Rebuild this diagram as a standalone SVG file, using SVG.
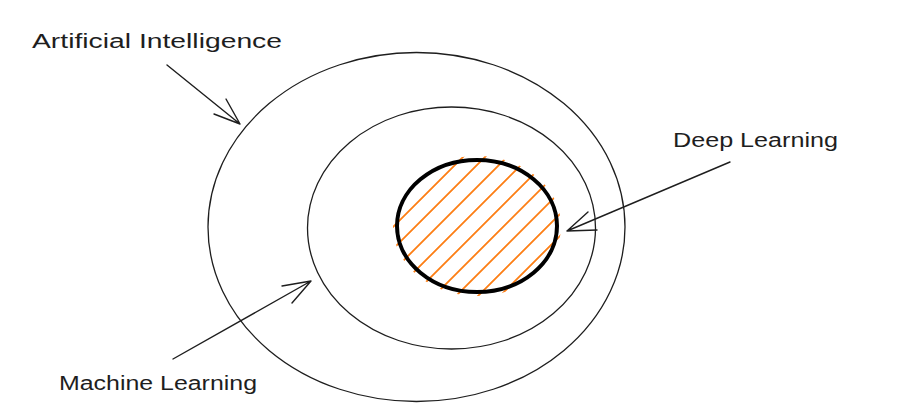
<svg xmlns="http://www.w3.org/2000/svg" width="904" height="406" viewBox="0 0 904 406">
<defs>
<style>
.ring{fill:none;stroke:#1e1e1e;stroke-width:1.3}
.arrow{fill:none;stroke:#1e1e1e;stroke-width:1.4;stroke-linecap:round;stroke-linejoin:round}
.hatch{stroke:#fd7e14;stroke-width:1.8;stroke-linecap:round}
.label{font-family:"Liberation Sans","DejaVu Sans",sans-serif;font-size:20px;fill:#1e1e1e}
</style>
<clipPath id="dlclip"><ellipse cx="477" cy="226" rx="84" ry="70"/></clipPath>
</defs>
<rect width="904" height="406" fill="#ffffff"/>
<g id="ai">
<ellipse class="ring" cx="416.5" cy="227" rx="208.5" ry="174.5"/>
<text class="label" x="32" y="48" textLength="250" lengthAdjust="spacingAndGlyphs">Artificial Intelligence</text>
</g>
<g id="ml">
<ellipse class="ring" cx="451.5" cy="228" rx="144" ry="121"/>
<text class="label" x="59" y="390" textLength="198" lengthAdjust="spacingAndGlyphs">Machine Learning</text>
</g>
<g id="dl">
<g clip-path="url(#dlclip)">
<line class="hatch" x1="294" y1="326" x2="494" y2="126"/>
<line class="hatch" x1="316" y1="326" x2="516" y2="126"/>
<line class="hatch" x1="338" y1="326" x2="538" y2="126"/>
<line class="hatch" x1="360" y1="326" x2="560" y2="126"/>
<line class="hatch" x1="382" y1="326" x2="582" y2="126"/>
<line class="hatch" x1="404" y1="326" x2="604" y2="126"/>
<line class="hatch" x1="426" y1="326" x2="626" y2="126"/>
<line class="hatch" x1="448" y1="326" x2="648" y2="126"/>
<line class="hatch" x1="470" y1="326" x2="670" y2="126"/>
</g>
<ellipse cx="477" cy="226" rx="80" ry="66" fill="none" stroke="#000000" stroke-width="4"/>
<text class="label" x="673" y="147" textLength="165" lengthAdjust="spacingAndGlyphs">Deep Learning</text>
</g>
<g id="connectors">
<path class="arrow" d="M167 65 L240 124 M226 99 L240 124 L214 114"/>
<path class="arrow" d="M730 162 L567 231 M588 212 L567 231 L597 230"/>
<path class="arrow" d="M173 359 L311 281 M282 286 L311 281 L292 303"/>
</g>
</svg>
